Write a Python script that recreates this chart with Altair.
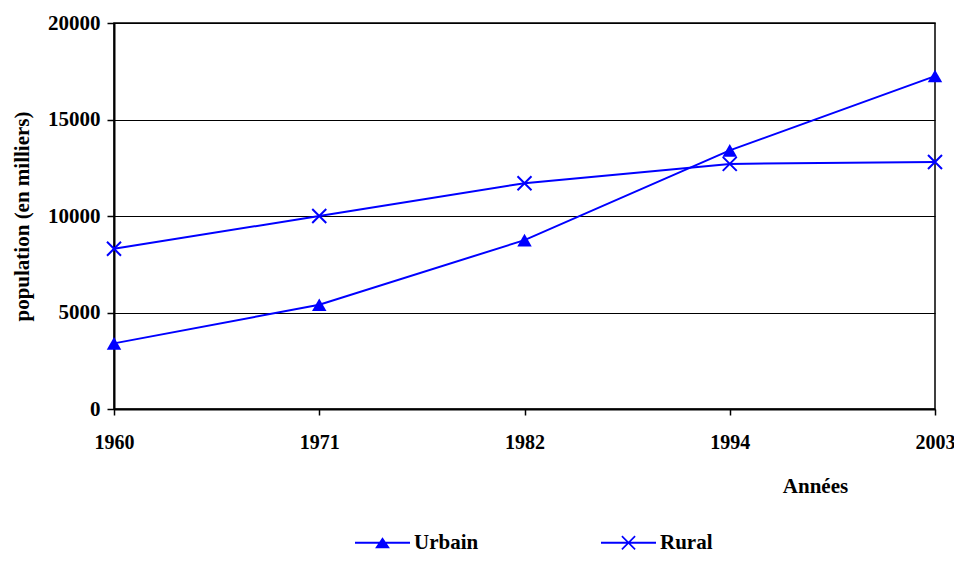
import altair as alt
import pandas as pd

years = ["1960", "1971", "1982", "1994", "2003"]
urbain = [3400, 5400, 8750, 13400, 17250]
rural = [8300, 10000, 11700, 12700, 12800]
series_names = ["Urbain", "Rural"]

rows = []
for y, u, r in zip(years, urbain, rural):
    rows.append({"annee": y, "serie": "Urbain", "pop": u})
    rows.append({"annee": y, "serie": "Rural", "pop": r})
df = pd.DataFrame(rows)

BLUE = "#0000FF"
FONT = "Liberation Serif"
FS = 21

X_PATH = "M-1,-1L1,1M-1,1L1,-1"
# legend glyphs: a line segment with the series marker, drawn as filled shapes
LINE = "M-1,-0.036L1,-0.036L1,0.036L-1,0.036Z"
LEG_U = LINE + "M-0.27,0.2L0,-0.2L0.27,0.2Z"
LEG_R = (
    LINE
    + "M-0.219,-0.261L0.261,0.219L0.219,0.261L-0.261,-0.219Z"
    + "M-0.219,0.261L-0.261,0.219L0.219,-0.261L0.261,-0.219Z"
)

x_enc = alt.X(
    "annee:O",
    sort=years,
    scale=alt.Scale(padding=0),
    axis=alt.Axis(
        title="Années",
        titleX=701,
        titleY=77,
        titleAlign="center",
        titleBaseline="middle",
        labelAngle=0,
        labelPadding=17,
        labelFontSize=20,
        tickSize=6,
        grid=False,
    ),
)
y_enc = alt.Y(
    "pop:Q",
    scale=alt.Scale(domain=[0, 20000], nice=False),
    axis=alt.Axis(
        title="population (en milliers)",
        values=[0, 5000, 10000, 15000, 20000],
        format="d",
        titleX=-92,
        titleY=193,
        titleAlign="center",
        titleBaseline="middle",
        titleAngle=270,
        labelPadding=7,
        tickSize=7,
        grid=True,
        gridColor="black",
        gridWidth=1,
        gridOpacity=1,
    ),
)

base = alt.Chart(df)

lines = base.mark_line(color=BLUE, strokeWidth=2).encode(
    x=x_enc, y=y_enc, detail="serie:N"
)

pts_u = base.transform_filter(alt.datum.serie == "Urbain").mark_point(
    shape="triangle-up", filled=True, color=BLUE, size=210, opacity=1
).encode(x=x_enc, y=y_enc)

pts_r = base.transform_filter(alt.datum.serie == "Rural").mark_point(
    shape=X_PATH, filled=False, color=BLUE, size=196, strokeWidth=2, opacity=1
).encode(x=x_enc, y=y_enc)

legend_layer = base.mark_point(
    filled=True, color=BLUE, opacity=0, strokeWidth=0
).encode(
    x=x_enc,
    y=y_enc,
    shape=alt.Shape(
        "serie:N",
        scale=alt.Scale(domain=series_names, range=[LEG_U, LEG_R]),
        legend=alt.Legend(
            title=None,
            orient="none",
            direction="horizontal",
            legendX=241,
            legendY=492,
            padding=0,
            symbolSize=3025,
            symbolOpacity=1,
            symbolFillColor=BLUE,
            symbolStrokeWidth=0,
            labelFont=FONT,
            labelFontSize=FS,
            labelFontWeight="bold",
            labelColor="black",
            labelOffset=4,
            labelLimit=300,
            columnPadding=122,
        ),
    ),
)

chart = (
    alt.layer(lines, pts_u, pts_r, legend_layer)
    .properties(
        width=821,
        height=386,
        autosize=alt.AutoSizeParams(type="none"),
        padding={"left": 106, "top": 15, "right": 19, "bottom": 146},
    )
    .configure_view(stroke="black", strokeWidth=1.5)
    .configure_axis(
        labelFont=FONT,
        labelFontSize=FS,
        labelFontWeight="bold",
        labelColor="black",
        titleFont=FONT,
        titleFontSize=FS,
        titleFontWeight="bold",
        titleColor="black",
        domainColor="black",
        domainWidth=2,
        tickColor="black",
        tickWidth=1.5,
    )
)

chart.save("out.html", embed_options={"renderer": "svg", "actions": False})
